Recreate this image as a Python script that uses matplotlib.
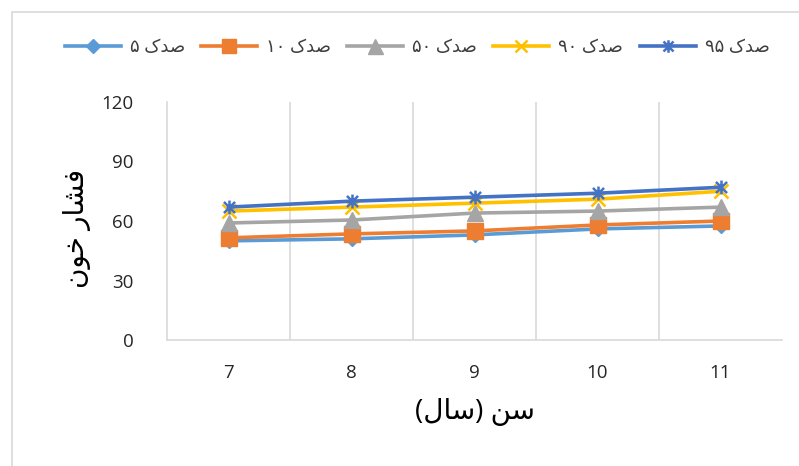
import matplotlib
matplotlib.use("Agg")
import matplotlib.pyplot as plt
from matplotlib.path import Path
from matplotlib.patches import Rectangle

# ---- data ----
ages = [7, 8, 9, 10, 11]
age_labels = ["7", "8", "9", "10", "11"]
p5 = [50, 51, 53, 56, 57.5]
p10 = [51.5, 53.5, 55, 58, 60]
p50 = [59, 60.5, 64, 65, 67]
p90 = [65, 67, 69, 71, 75]
p95 = [67, 70, 72, 74, 77]
y_ticks = [0, 30, 60, 90, 120]

# Persian labels written in visual order with presentation forms
# (matplotlib does no Arabic shaping / bidi)
SADAK = "\uFB8E\uFEAA\uFEBB"  # صدک
series_names = ["\u06F5 " + SADAK,            # صدک ۵
                "\u06F1\u06F0 " + SADAK,      # صدک ۱۰
                "\u06F5\u06F0 " + SADAK,      # صدک ۵۰
                "\u06F9\u06F0 " + SADAK,      # صدک ۹۰
                "\u06F9\u06F5 " + SADAK]      # صدک ۹۵
x_title = "(\uFEDD\uFE8E\uFEB3) \uFEE6\uFEB3"          # سن (سال)
y_title = "\uFEE5\uFEEE\uFEA7 \uFEAD\uFE8E\uFEB8\uFED3"  # فشار خون

plt.rcParams['font.family'] = ['Open Sans', 'DejaVu Sans']

star = Path([(-1, -1), (1, 1), (-1, 1), (1, -1), (0, -1.25), (0, 1.25)],
            [Path.MOVETO, Path.LINETO, Path.MOVETO, Path.LINETO, Path.MOVETO, Path.LINETO])

fig = plt.figure(figsize=(7.99, 4.66), dpi=100)
fig.patches.append(Rectangle((12 / 799, -0.1), 1.2, 1 - 12 / 466 + 0.1,
                             transform=fig.transFigure, fill=False,
                             edgecolor="#d9d9d9", linewidth=1.2))
ax = fig.add_axes([167 / 799, 1 - 340 / 466, 615 / 799, 238 / 466])

styles = [
    dict(color="#5B9BD5", marker="D", markersize=7.5),
    dict(color="#ED7D31", marker="s", markersize=11),
    dict(color="#A5A5A5", marker="^", markersize=12),
    dict(color="#FFC000", marker="x", markersize=10, markeredgewidth=1.8),
    dict(color="#4472C4", marker=star, markersize=10, markeredgewidth=1.8, markerfacecolor="none"),
]
for vals, name, st in zip([p5, p10, p50, p90, p95], series_names, styles):
    ax.plot(ages, vals, linewidth=2.6, label=name, **st)

ax.set_xlim(6.5, 11.5)
ax.set_ylim(0, 120)
ax.set_yticks(y_ticks)
ax.set_xticks(ages)
ax.set_xticklabels(age_labels)
for b in [7.5, 8.5, 9.5, 10.5]:
    ax.axvline(b, color="#d9d9d9", linewidth=1.2, zorder=0)
for s in ["top", "right"]:
    ax.spines[s].set_visible(False)
for s in ["left", "bottom"]:
    ax.spines[s].set_color("#d9d9d9")
    ax.spines[s].set_linewidth(1.2)
ax.tick_params(axis="both", length=0, labelsize=13.5, colors="#262626")
ax.tick_params(axis="y", pad=24)
ax.tick_params(axis="x", pad=17)

fig.text(475 / 799, 1 - 412 / 466, x_title, ha="center", va="center",
         fontsize=20, color="black")
fig.text(77 / 799, 1 - 228 / 466, y_title, ha="center", va="center",
         rotation=90, fontsize=20, color="black")

fig.legend(loc="center", bbox_to_anchor=(417 / 799, 1 - 47 / 466), ncol=5,
           frameon=False, fontsize=13, handlelength=3.1, handletextpad=0.5,
           columnspacing=0.9, labelcolor="#404040", markerscale=0.9)

fig.savefig("out.png", dpi=100)
